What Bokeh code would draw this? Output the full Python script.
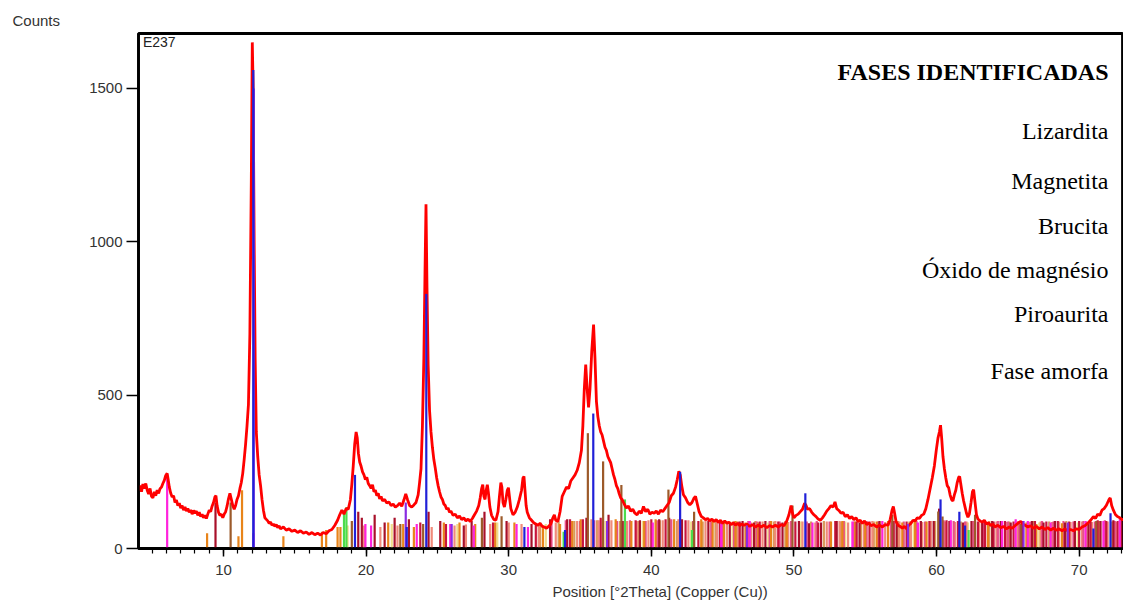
from bokeh.plotting import figure
from bokeh.models import Range1d, SingleIntervalTicker, FixedTicker, Label, Title
from bokeh.embed import file_html
from bokeh.resources import INLINE

# ---------------- data ----------------
# measured diffraction pattern (2theta, counts)
pattern = [
    (4.04,190),(4.15,205),(4.25,185),(4.35,210),(4.45,195),(4.55,212),(4.65,190),(4.75,178),(4.85,196),
    (4.95,170),(5.05,165),(5.15,185),(5.25,172),(5.35,190),(5.45,180),(5.55,195),(5.65,200),(5.75,212),
    (5.85,222),(5.95,238),(6.05,245),(6.12,225),(6.2,200),(6.3,180),(6.4,168),(6.5,172),(6.6,150),(6.7,158),
    (6.8,140),(6.9,148),(7.0,132),(7.1,140),(7.2,125),(7.3,135),(7.4,122),(7.5,130),(7.6,118),(7.7,126),
    (7.8,112),(7.9,124),(8.0,115),(8.1,122),(8.2,108),(8.3,118),(8.4,104),(8.5,112),(8.6,100),(8.7,108),
    (8.8,98),(8.9,112),(9.0,125),(9.1,120),(9.2,138),(9.3,150),(9.4,168),(9.47,172),(9.55,140),(9.65,118),
    (9.75,108),(9.85,112),(9.95,100),(10.05,112),(10.15,120),(10.25,138),(10.35,162),(10.45,180),(10.55,160),
    (10.65,140),(10.75,128),(10.85,140),(10.95,160),(11.05,172),(11.15,195),(11.25,215),(11.35,245),
    (11.45,290),(11.55,340),(11.65,400),(11.75,470),(11.85,700),(11.95,1200),(12.02,1650),(12.08,1500),
    (12.15,1000),(12.22,620),(12.3,380),(12.4,300),(12.5,240),(12.6,205),(12.7,160),(12.8,125),(12.9,100),
    (13.0,95),(13.1,90),(13.2,82),(13.3,86),(13.4,76),(13.5,80),(13.6,72),(13.7,78),(13.8,68),(13.9,74),
    (14.0,64),(14.2,70),(14.4,60),(14.6,64),(14.8,56),(15.0,60),(15.2,52),(15.4,58),(15.6,50),(15.8,54),
    (16.0,46),(16.2,52),(16.4,45),(16.6,50),(16.8,44),(17.0,52),(17.2,48),(17.4,58),(17.6,62),(17.8,75),
    (18.0,92),(18.15,110),(18.3,125),(18.45,112),(18.6,130),(18.75,128),(18.9,160),(19.0,210),(19.1,270),
    (19.2,340),(19.3,380),(19.38,360),(19.46,310),(19.55,282),(19.65,268),(19.75,250),(19.85,240),
    (19.95,225),(20.05,232),(20.15,212),(20.25,205),(20.35,196),(20.45,208),(20.55,185),(20.65,190),
    (20.75,172),(20.85,180),(20.95,162),(21.05,170),(21.15,155),(21.3,160),(21.45,148),(21.6,152),
    (21.75,140),(21.9,145),(22.05,135),(22.2,140),(22.35,148),(22.5,138),(22.65,158),(22.78,178),(22.9,160),
    (23.05,140),(23.2,135),(23.35,142),(23.5,150),(23.65,175),(23.75,215),(23.85,260),(23.95,400),
    (24.05,620),(24.13,900),(24.2,1122),(24.27,850),(24.35,600),(24.45,450),(24.55,380),(24.65,330),
    (24.75,290),(24.85,262),(24.95,230),(25.05,205),(25.15,185),(25.25,168),(25.35,160),(25.45,145),
    (25.55,140),(25.65,128),(25.75,132),(25.85,118),(25.95,122),(26.1,108),(26.25,112),(26.4,100),
    (26.55,106),(26.7,94),(26.85,100),(27.0,90),(27.15,96),(27.3,88),(27.45,98),(27.6,110),(27.75,122),
    (27.9,140),(28.0,165),(28.1,195),(28.18,208),(28.26,170),(28.34,160),(28.42,190),(28.5,208),(28.58,180),
    (28.68,135),(28.8,108),(28.95,95),(29.1,92),(29.25,120),(29.35,170),(29.45,215),(29.52,200),(29.6,150),
    (29.7,135),(29.8,160),(29.9,190),(29.98,198),(30.06,165),(30.15,130),(30.3,110),(30.45,118),(30.6,135),
    (30.75,160),(30.9,190),(31.0,230),(31.07,235),(31.14,190),(31.22,140),(31.3,118),(31.45,100),(31.6,92),
    (31.75,84),(31.9,80),(32.05,76),(32.2,82),(32.35,72),(32.5,70),(32.65,66),(32.8,72),(32.95,80),
    (33.1,100),(33.2,110),(33.3,92),(33.45,88),(33.6,120),(33.75,170),(33.9,185),(34.05,200),(34.2,195),
    (34.35,220),(34.5,230),(34.65,240),(34.8,255),(34.95,280),(35.1,320),(35.2,400),(35.3,520),(35.4,600),
    (35.5,520),(35.6,460),(35.7,520),(35.82,640),(35.95,730),(36.05,620),(36.15,480),(36.25,430),
    (36.35,400),(36.45,380),(36.55,370),(36.65,350),(36.75,330),(36.85,320),(36.95,300),(37.05,290),
    (37.15,280),(37.25,260),(37.35,240),(37.45,225),(37.55,205),(37.65,195),(37.75,178),(37.85,165),
    (37.95,160),(38.1,145),(38.25,132),(38.4,138),(38.55,122),(38.7,128),(38.85,115),(39.0,110),
    (39.15,122),(39.3,115),(39.45,137),(39.6,120),(39.75,128),(39.9,112),(40.05,118),(40.2,115),
    (40.35,122),(40.5,112),(40.65,125),(40.8,120),(40.95,130),(41.1,140),(41.25,150),(41.4,172),
    (41.55,180),(41.7,200),(41.82,225),(41.93,252),(42.03,240),(42.13,205),(42.25,175),(42.4,165),
    (42.55,150),(42.7,142),(42.85,150),(43.0,165),(43.1,170),(43.2,150),(43.35,120),(43.5,105),(43.65,100),
    (43.8,94),(43.95,98),(44.1,90),(44.25,96),(44.4,88),(44.55,94),(44.7,85),(44.85,92),(45.0,82),
    (45.15,90),(45.3,82),(45.45,86),(45.6,78),(45.75,84),(45.9,76),(46.05,82),(46.2,75),(46.35,80),
    (46.5,76),(46.7,80),(46.9,72),(47.1,78),(47.3,70),(47.5,76),(47.7,70),(47.9,76),(48.1,68),(48.3,75),
    (48.5,70),(48.7,76),(48.9,70),(49.1,78),(49.3,74),(49.5,90),(49.65,110),(49.8,140),(49.9,115),
    (50.0,100),(50.15,108),(50.3,112),(50.45,120),(50.6,128),(50.75,148),(50.85,140),(50.95,128),
    (51.1,130),(51.25,118),(51.4,110),(51.55,104),(51.7,96),(51.85,92),(52.0,100),(52.15,110),(52.3,122),
    (52.45,130),(52.6,140),(52.75,135),(52.88,152),(53.0,130),(53.15,124),(53.3,115),(53.45,118),
    (53.6,104),(53.75,110),(53.9,98),(54.05,104),(54.2,94),(54.35,100),(54.5,88),(54.65,92),(54.8,82),
    (54.95,90),(55.1,78),(55.25,84),(55.4,74),(55.6,78),(55.8,70),(56.0,76),(56.2,70),(56.4,78),(56.6,76),
    (56.75,95),(56.88,125),(56.97,137),(57.06,115),(57.16,88),(57.3,76),(57.45,72),(57.6,66),(57.75,72),
    (57.9,64),(58.05,76),(58.2,82),(58.35,92),(58.5,90),(58.65,100),(58.8,98),(58.95,108),(59.1,112),
    (59.25,130),(59.4,160),(59.55,195),(59.7,230),(59.85,270),(59.98,320),(60.1,360),(60.2,380),
    (60.28,402),(60.36,360),(60.45,300),(60.55,260),(60.65,230),(60.75,205),(60.85,198),(60.95,175),
    (61.05,160),(61.15,155),(61.25,175),(61.35,190),(61.45,215),(61.55,232),(61.62,235),(61.7,210),
    (61.8,180),(61.9,155),(62.0,135),(62.1,115),(62.2,102),(62.3,112),(62.42,150),(62.52,185),(62.6,192),
    (62.7,150),(62.8,110),(62.9,96),(63.05,90),(63.2,86),(63.35,92),(63.5,80),(63.65,84),(63.8,74),
    (63.95,80),(64.1,70),(64.3,76),(64.5,68),(64.7,72),(64.9,64),(65.1,70),(65.3,66),(65.5,74),(65.7,82),
    (65.9,88),(66.05,80),(66.2,76),(66.4,70),(66.6,74),(66.8,66),(67.0,72),(67.2,64),(67.4,70),(67.6,62),
    (67.8,68),(68.0,60),(68.2,66),(68.4,60),(68.6,64),(68.8,58),(69.0,64),(69.2,58),(69.4,62),(69.6,58),
    (69.8,64),(70.0,62),(70.2,70),(70.4,74),(70.6,82),(70.8,92),(71.0,104),(71.15,98),(71.3,112),
    (71.45,108),(71.6,125),(71.75,130),(71.9,140),(72.0,150),(72.1,160),(72.18,165),(72.28,140),
    (72.4,125),(72.55,110),(72.7,104),(72.85,100),(73.0,94),(73.15,96),
]
two_theta = [p[0] for p in pattern]
counts = [p[1] for p in pattern]

# reference stick patterns (position, relative height in counts)
sticks_blue = [(12.09,1560),(19.22,240),(22.85,70),(24.22,830),(31.1,70),(33.95,60),(35.93,440),
               (42.02,250),(50.8,180),(60.28,160),(61.6,120),(62.0,75),(71.0,65),(72.2,115)]
sticks_purple = [(12.12,1500),(22.78,150),(26.0,80),(36.9,90),(46.7,75),(58.0,80),(66.1,90),(69.2,85)]
sticks_magenta = [(6.05,230),(12.1,50),(19.95,80),(20.35,75),(23.55,80),(25.9,80),(27.55,75),(30.55,80),
                  (31.35,70),(40.1,85),(44.9,80),(46.9,90),(51.3,85),(54.1,88),(56.2,90),(58.7,85),
                  (61.0,92),(64.6,90),(65.55,95),(66.4,90),(68.0,85),(70.45,90),(71.7,90),(72.85,95)]
sticks_orange = [(8.85,50),(11.05,40),(11.3,190),(14.2,40),(16.9,55),(17.2,60),(18.0,70),(18.2,70),
                 (21.55,85),(22.6,80),(23.35,70),(25.45,85),(26.55,85),(27.65,80),(29.05,85),(30.4,85),
                 (32.4,75),(33.6,80),(34.45,90),(35.05,95),(36.6,95),(37.5,95),(38.6,90),(39.5,90),
                 (40.3,95),(41.6,95),(43.5,95),(44.3,90),(45.1,85),(45.9,90),(46.6,85),(47.5,85),
                 (48.4,90),(49.5,90),(52.6,88),(53.4,90),(54.3,88),(55.0,90),(55.8,88),(56.6,90),
                 (57.6,85),(58.5,90),(59.3,88),(63.6,85),(66.3,85),(67.0,80),(68.8,82)]
sticks_darkred = [(9.44,150),(19.45,120),(19.7,100),(20.6,110),(21.3,85),(22.0,100),(23.0,95),(24.38,120),
                  (25.2,90),(26.85,75),(27.4,90),(28.3,120),(29.85,90),(31.6,80),(32.9,95),(34.1,95),
                  (35.45,100),(37.0,110),(37.95,90),(39.2,92),(40.55,95),(41.25,100),(42.15,95),(42.95,90),
                  (44.0,90),(45.5,85),(46.4,90),(47.2,85),(48.0,90),(49.2,85),(50.35,90),(51.05,82),
                  (51.9,85),(53.0,90),(54.6,85),(56.0,90),(57.2,85),(58.9,90),(59.8,90),(60.18,130),
                  (60.9,90),(61.85,85),(62.45,90),(63.2,85),(63.9,90),(64.5,90),(65.2,85),(66.0,90),
                  (66.7,90),(67.5,85),(68.3,90),(69.0,85),(69.7,90),(70.65,85),(71.5,90),(72.4,92),(72.95,90)]
sticks_brown = [(10.5,150),(19.0,90),(22.4,80),(24.0,80),(28.12,100),(29.5,105),(35.55,376),(36.62,284),
                (37.9,207),(41.2,192),(43.0,120),(49.9,140),(56.9,110),(60.12,121),(60.42,104),(62.7,110),
                (65.9,80),(71.2,90)]
sticks_salmon = [(19.85,75),(21.0,70),(22.2,75),(24.6,70),(26.2,75),(27.0,78),(28.7,80),(30.0,85),(30.9,80),
                 (32.1,80),(33.3,85),(34.8,90),(35.8,95),(36.3,92),(37.2,92),(38.3,90),(39.0,90),(39.8,92),
                 (40.8,92),(41.9,95),(42.6,92),(43.8,90),(44.6,88),(45.3,90),(46.1,88),(47.0,85),(47.8,88),
                 (48.7,90),(49.6,86),(50.6,88),(51.5,85),(52.3,88),(53.2,90),(53.8,85),(54.9,88),(55.5,90),
                 (56.4,86),(57.4,88),(58.2,90),(59.0,86),(59.6,90),(60.6,88),(61.3,86),(62.1,88),(63.0,86),
                 (64.2,88),(64.9,86),(65.7,90),(66.5,86),(67.3,88),(68.1,86),(68.6,88),(69.4,86),(70.2,88),
                 (70.9,86),(72.0,88),(72.6,86)]
sticks_crimson = [(23.8,85),(25.6,80),(28.9,85),(31.9,80),(34.3,95),(35.2,95),(36.45,100),(38.0,90),(38.9,92),
                  (40.0,95),(41.0,95),(42.4,92),(43.3,90),(44.8,90),(46.2,88),(47.6,88),(48.9,88),(50.1,88),
                  (51.7,85),(52.9,90),(54.4,88),(55.3,88),(57.0,90),(57.9,88),(59.5,90),(60.7,92),(61.5,90),
                  (62.9,88),(63.4,90),(64.0,88),(64.8,90),(65.4,88),(66.9,90),(67.7,88),(68.5,90),(69.3,88),
                  (70.0,90),(70.8,88),(71.3,92),(71.9,90),(72.7,90)]
sticks_yellow = [(18.7,75),(21.8,80),(26.4,80),(29.2,85),(32.6,80),(36.8,90),(39.4,90),(42.8,88),(45.7,88),
                 (48.2,85),(50.5,88),(53.6,88),(56.1,88),(58.4,88),(62.2,85),(67.2,85),(69.9,85)]
sticks_green = [(18.45,125),(18.62,135),(33.85,55),(38.15,160),(42.85,60),(62.25,60)]
sticks_pink = [(33.0,90),(34.0,92),(35.0,90),(36.0,92),(37.6,90),(38.5,92),(39.6,90),(40.4,92),(41.4,95),
               (43.0,90),(44.2,88),(45.0,90),(45.8,88),(46.8,90),(47.4,88),(48.3,90),(49.0,88),(49.8,90),
               (50.9,88),(51.6,90),(52.5,88),(53.5,90),(54.2,88),(55.1,90),(55.9,88),(56.8,90),(57.7,88),
               (58.6,90),(59.2,88),(60.5,92),(61.2,90),(62.0,88),(62.6,90),(63.3,88),(64.3,90),(65.0,88),
               (65.8,90),(66.6,88),(67.4,90),(68.2,88),(68.9,90),(69.6,88),(70.3,90),(71.1,88),(71.8,92),
               (72.5,90)]
sticks_tan = [(32.2,85),(33.5,88),(34.6,90),(36.2,92),(37.8,90),(39.1,90),(40.6,92),(41.8,90),(43.6,88),
              (44.5,90),(46.0,88),(47.3,90),(48.6,88),(49.4,90),(51.2,88),(52.1,90),(53.3,88),(54.7,90),
              (55.6,88),(57.3,90),(58.1,88),(59.9,90),(61.7,88),(63.7,90),(65.1,88),(66.8,90),(67.9,88),
              (69.1,90),(70.5,88),(71.4,90),(72.3,88)]

y_ticks = [0, 500, 1000, 1500]
legend_title = "FASES  IDENTIFICADAS"
phases = ["Lizardita", "Magnetita", "Brucita", "Óxido de magnésio", "Piroaurita", "Fase amorfa"]
phase_y = [1360, 1197, 1050, 907, 764, 578]

# ---------------- figure ----------------
p = figure(width=1123, height=609, x_range=Range1d(4.04, 73.11), y_range=Range1d(0, 1679),
           output_backend="svg", toolbar_location=None,
           min_border_left=138, min_border_right=0, min_border_top=33, min_border_bottom=61)
p.grid.visible = False
p.outline_line_color = "black"
p.outline_line_width = 2.8
p.background_fill_color = "white"
p.border_fill_color = "white"


def draw_sticks(data, color, width=2.2):
    xs = [d[0] for d in data]
    hs = [d[1] for d in data]
    p.segment(x0=xs, y0=[0] * len(xs), x1=xs, y1=hs, line_color=color, line_width=width)


draw_sticks(sticks_yellow, "#f0dc8c")
draw_sticks(sticks_tan, "#d89a5a")
draw_sticks(sticks_salmon, "#f08a7a")
draw_sticks(sticks_pink, "#e8508a")
draw_sticks(sticks_orange, "#e8841a")
draw_sticks(sticks_crimson, "#c8143c")
draw_sticks(sticks_darkred, "#a8102a")
draw_sticks(sticks_brown, "#9c5a2a")
draw_sticks(sticks_magenta, "#ff22dd")
draw_sticks(sticks_green, "#4cdc4c")

p.line(two_theta, counts, line_color="#ff0000", line_width=2.8)

draw_sticks(sticks_purple, "#8a2be2", 2.2)
draw_sticks(sticks_blue, "#2020d8", 2.2)

# axes
p.xaxis.ticker = SingleIntervalTicker(interval=10, num_minor_ticks=10)
p.yaxis.ticker = FixedTicker(ticks=y_ticks)
for ax in (p.xaxis, p.yaxis):
    ax.axis_line_width = 2.5
    ax.axis_line_color = "black"
    ax.major_tick_line_color = "black"
    ax.major_tick_line_width = 1.5
    ax.major_tick_in = 0
    ax.major_label_text_font = "Liberation Sans"
    ax.major_label_text_font_size = "15px"
    ax.major_label_text_color = "#333333"
p.xaxis.major_tick_out = 8
p.xaxis.minor_tick_out = 5
p.xaxis.minor_tick_in = 0
p.xaxis.minor_tick_line_color = "black"
p.xaxis.minor_tick_line_width = 1.2
p.xaxis.major_label_standoff = 8
p.yaxis.major_tick_out = 12
p.yaxis.minor_tick_line_color = None
p.yaxis.major_label_standoff = 4

# texts outside the frame (titles are not clipped)
p.add_layout(Title(text="Counts", align="left", offset=-126, text_font="Liberation Sans",
                   text_font_size="15px", text_font_style="normal", text_color="#333333"), "above")
p.add_layout(Title(text="Position [°2Theta] (Copper (Cu))", align="left", offset=414, standoff=6,
                   text_font="Liberation Sans", text_font_size="15px", text_font_style="normal",
                   text_color="#333333"), "below")

# texts inside the frame
p.add_layout(Label(x=4.35, y=1650, text="E237", text_font="Liberation Sans", text_font_size="14px",
                   text_color="#222222", text_baseline="middle", text_align="left"))
p.add_layout(Label(x=72.48, y=1555, text=legend_title, text_font="Liberation Serif",
                   text_font_size="24px", text_font_style="bold", text_color="black",
                   text_baseline="middle", text_align="right"))
for name, yy in zip(phases, phase_y):
    p.add_layout(Label(x=72.06, y=yy, text=name, text_font="Liberation Serif",
                       text_font_size="24px", text_color="black",
                       text_baseline="middle", text_align="right"))

open("out.html", "w").write(file_html(p, INLINE))
